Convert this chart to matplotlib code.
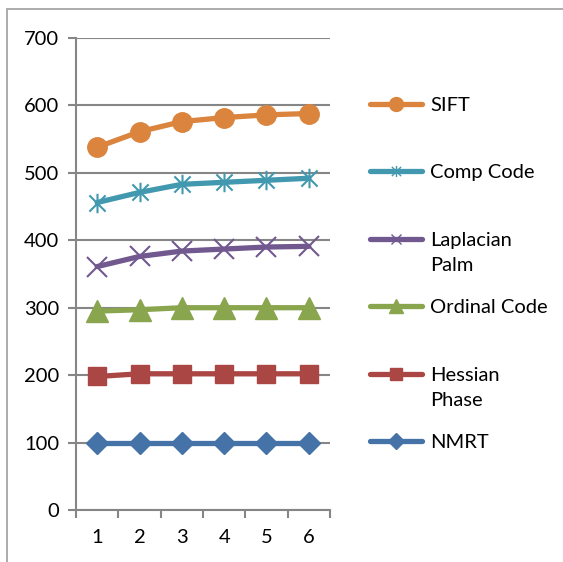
import numpy as np
import matplotlib.pyplot as plt
from matplotlib.lines import Line2D
from matplotlib.path import Path
from matplotlib.patches import Rectangle
import matplotlib.transforms as mtransforms

plt.rcParams['font.family'] = ['Lato', 'DejaVu Sans']

# Data
x = [1, 2, 3, 4, 5, 6]
sift = [538, 561, 576, 582, 586, 588]
comp_code = [456, 471, 483, 486, 489, 492]
laplacian_palm = [361, 376, 384, 387, 390, 391]
ordinal_code = [295, 297, 300, 300, 300, 300]
hessian_phase = [198, 202, 202, 202, 202, 202]
nmrt = [100, 100, 100, 100, 100, 100]

# asterisk marker like Excel's "*"
star_path = Path(
    [(-1, -1), (1, 1), (-1, 1), (1, -1), (0, -1.2), (0, 1.2)],
    [Path.MOVETO, Path.LINETO, Path.MOVETO, Path.LINETO, Path.MOVETO, Path.LINETO],
)

series = [
    ("SIFT", sift, "#DB843D", "o", 14, 10),
    ("Comp Code", comp_code, "#4198AF", star_path, 14, 8),
    ("Laplacian", laplacian_palm, "#71588F", "x", 14, 7),
    ("Ordinal Code", ordinal_code, "#89A54E", "^", 16, 10),
    ("Hessian", hessian_phase, "#AA4643", "s", 13, 9),
    ("NMRT", nmrt, "#4572A7", "D", 11, 8),
]
second_lines = {"Laplacian": "Palm", "Hessian": "Phase"}

fig = plt.figure(figsize=(5.63, 5.62), dpi=100)
ax = fig.add_axes([76 / 563, 1 - 510 / 562, (330 - 76) / 563, (510 - 38) / 562])

gray = "#868686"

# outer chart border (clipped by the image edges)
fig.patches.append(Rectangle((7 / 563, -0.1), 1.2, 1 - 9 / 562 + 0.1,
                             transform=fig.transFigure, fill=False,
                             edgecolor="#A6A6A6", linewidth=1.3))

for name, vals, color, marker, ms, lms in series:
    thin = marker == "x" or isinstance(marker, Path)
    ax.plot(x, vals, color=color, linewidth=3.8, marker=marker,
            markersize=ms, markeredgecolor=color, markerfacecolor=color,
            markeredgewidth=1.5 if thin else 1,
            solid_capstyle="round", zorder=3)

ax.set_xlim(0.5, 6.5)
ax.set_ylim(0, 700)
ax.set_yticks(np.arange(0, 701, 100))
ax.set_xticks(x)
ax.set_xticks(np.arange(0.5, 6.6, 1), minor=True)
ax.yaxis.grid(True, color=gray, linewidth=1.5)
ax.set_axisbelow(True)

for side in ("top", "right"):
    ax.spines[side].set_visible(False)
for side in ("left", "bottom"):
    ax.spines[side].set_color(gray)
    ax.spines[side].set_linewidth(1.5)

ax.tick_params(axis="y", length=6, width=1.5, color=gray, direction="out",
               labelsize=14.5, pad=6)
ax.tick_params(axis="x", which="major", length=0, labelsize=14.5, pad=14)
ax.tick_params(axis="x", which="minor", length=6, width=1.5, color=gray,
               direction="out")

# legend, one row per series aligned to the gridlines
trans = mtransforms.blended_transform_factory(fig.transFigure, ax.transData)
for i, (name, vals, color, marker, ms, lms) in enumerate(series):
    handle = Line2D([], [], color=color, linewidth=3.8, marker=marker,
                    markersize=lms, markerfacecolor=color, markeredgecolor=color,
                    solid_capstyle="round")
    leg = fig.legend([handle], [name], loc="center left",
                     bbox_to_anchor=(370 / 563, 600 - 100 * i),
                     bbox_transform=trans, frameon=False, fontsize=14.5,
                     handlelength=2.6, handletextpad=0.4, borderpad=0,
                     borderaxespad=0)
    if name in second_lines:
        fig.canvas.draw()
        ax.annotate(second_lines[name], xy=(0, 0),
                    xycoords=leg.get_texts()[0], xytext=(0, -6),
                    textcoords="offset points", ha="left", va="top",
                    fontsize=14.5, annotation_clip=False)

fig.savefig("out.png", dpi=100)
